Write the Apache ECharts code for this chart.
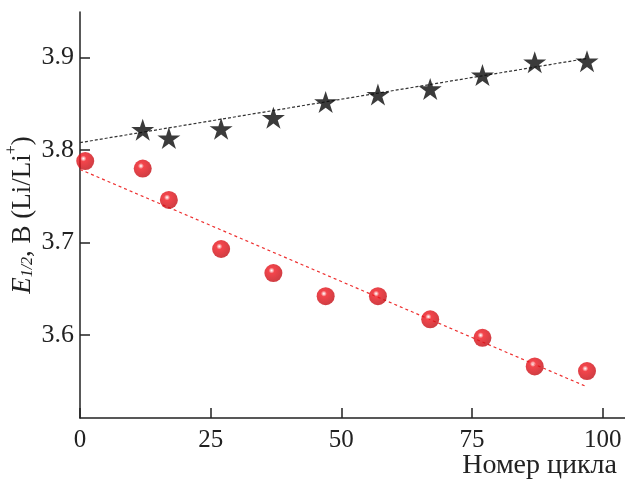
<!DOCTYPE html>
<html>
<head>
<meta charset="utf-8">
<script src="https://cdn.jsdelivr.net/npm/echarts@6/dist/echarts.min.js"></script>
<style>
  html, body { margin: 0; padding: 0; background: #fff; }
  #chart { width: 625px; height: 480px; }
</style>
</head>
<body>
<div id="chart"></div>
<script>
// номера циклов
const starCycles = [12, 17, 27, 37, 47, 57, 67, 77, 87, 97];
const starValues = [3.822, 3.813, 3.823, 3.835, 3.852, 3.860, 3.866, 3.881, 3.895, 3.896];
const ballCycles = [1, 12, 17, 27, 37, 47, 57, 67, 77, 87, 97];
const ballValues = [3.788, 3.780, 3.746, 3.693, 3.667, 3.642, 3.642, 3.617, 3.597, 3.566, 3.561];
// линии тренда (концы)
const starFit = [[0, 3.808], [97, 3.899]];
const ballFit = [[0, 3.779], [97, 3.544]];
const xTicks = [0, 25, 50, 75, 100];
const yTicks = [3.6, 3.7, 3.8, 3.9];

const serif = '"Liberation Serif", "DejaVu Serif", serif';
const starPath = 'path://M100 0 L122.45 69.1 L195.1 69.1 L136.3 111.8 L158.8 180.9 L100 138.2 L41.2 180.9 L63.7 111.8 L4.9 69.1 L77.55 69.1 Z';

const chart = echarts.init(document.getElementById('chart'));

const option = {
  animation: false,
  backgroundColor: '#fff',
  grid: { left: 80, right: 0, top: 12, bottom: 62 },
  xAxis: {
    type: 'value',
    min: 0,
    max: 104.27,
    splitLine: { show: false },
    axisLine: { lineStyle: { color: '#222', width: 1.5 } },
    axisTick: { inside: true, length: 10, customValues: xTicks, lineStyle: { color: '#222', width: 1.5 } },
    axisLabel: { customValues: xTicks, margin: 10, color: '#222', fontSize: 25, fontFamily: serif }
  },
  yAxis: {
    type: 'value',
    min: 3.5103,
    max: 3.9492,
    splitLine: { show: false },
    axisLine: { show: true, lineStyle: { color: '#222', width: 1.5 } },
    axisTick: { show: true, inside: true, length: 10, customValues: yTicks, lineStyle: { color: '#222', width: 1.5 } },
    axisLabel: {
      customValues: yTicks, margin: 6, color: '#222', fontSize: 26, fontFamily: serif,
      formatter: v => v.toFixed(1)
    }
  },
  graphic: [
    {
      type: 'text',
      x: 20, y: 215,
      rotation: Math.PI / 2,
      style: {
        text: '{i|E}{s|1/2}{n|, В (Li/Li}{p|+}{n|)}',
        align: 'center',
        verticalAlign: 'middle',
        fill: '#222',
        rich: {
          i: { fontSize: 27, fontStyle: 'italic', fontFamily: serif, fill: '#222', verticalAlign: 'bottom', lineHeight: 32 },
          s: { fontSize: 16, fontStyle: 'italic', fontFamily: serif, fill: '#222', verticalAlign: 'bottom', lineHeight: 26 },
          n: { fontSize: 27, fontFamily: serif, fill: '#222', verticalAlign: 'bottom', lineHeight: 32 },
          p: { fontSize: 16, fontFamily: serif, fill: '#222', verticalAlign: 'top', lineHeight: 26 }
        }
      }
    },
    {
      type: 'text',
      x: 617, y: 466,
      style: {
        text: 'Номер цикла',
        align: 'right',
        verticalAlign: 'middle',
        fill: '#222',
        fontSize: 28,
        fontFamily: serif
      }
    }
  ],
  series: [
    {
      type: 'line',
      data: starFit,
      symbol: 'none',
      lineStyle: { color: '#333', width: 1.2, type: [3, 2] },
      z: 1
    },
    {
      type: 'line',
      data: ballFit,
      symbol: 'none',
      lineStyle: { color: '#ee3030', width: 1.2, type: [3, 3] },
      z: 1
    },
    {
      type: 'scatter',
      data: starCycles.map((c, i) => [c, starValues[i]]),
      symbol: starPath,
      symbolSize: [23, 22],
      itemStyle: { color: '#0a0a0a' },
      z: 3
    },
    {
      type: 'scatter',
      data: ballCycles.map((c, i) => [c, ballValues[i]]),
      symbol: 'circle',
      symbolSize: 18,
      itemStyle: {
        color: {
          type: 'radial', x: 0.4, y: 0.36, r: 0.64,
          colorStops: [
            { offset: 0, color: '#ffffff' },
            { offset: 0.08, color: '#fbc4c4' },
            { offset: 0.26, color: '#f0161e' },
            { offset: 1, color: '#c40d14' }
          ]
        }
      },
      z: 3
    }
  ]
};

chart.setOption(option);
</script>
</body>
</html>
